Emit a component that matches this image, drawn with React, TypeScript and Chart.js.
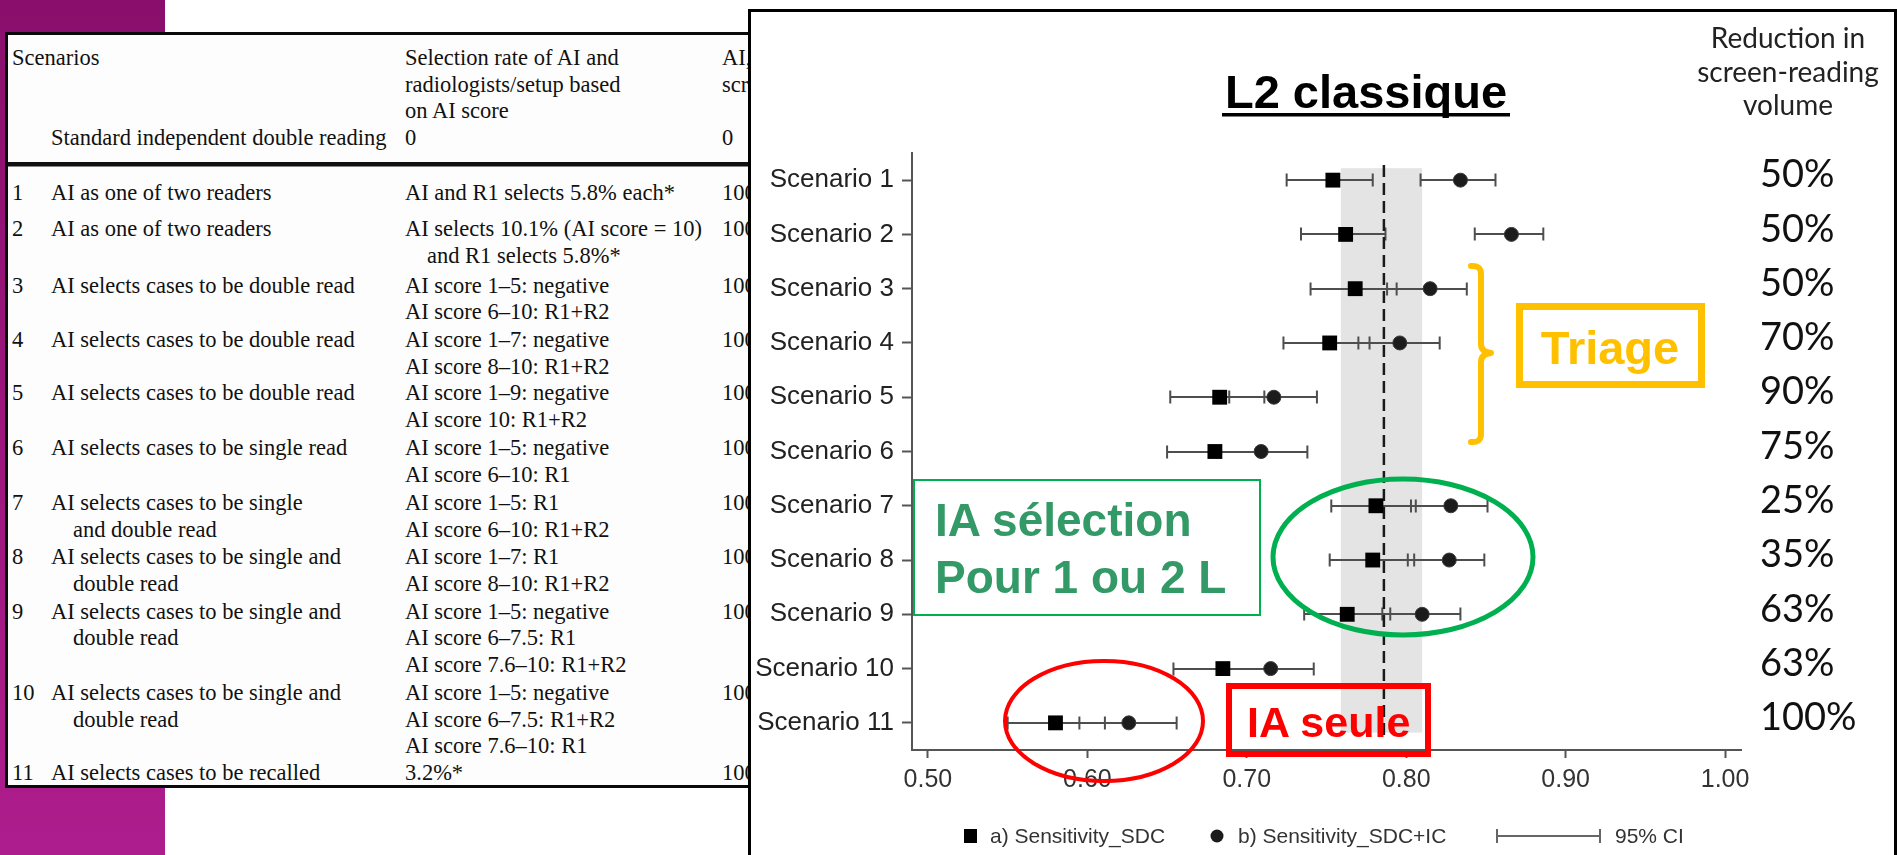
import React, { useEffect, useRef } from 'react';
import { Chart, registerables } from 'chart.js';

Chart.register(...registerables);

// ---------- chart data ----------
const scenarios = ['Scenario 1', 'Scenario 2', 'Scenario 3', 'Scenario 4', 'Scenario 5', 'Scenario 6', 'Scenario 7', 'Scenario 8', 'Scenario 9', 'Scenario 10', 'Scenario 11'];
const sensSdc = [0.754, 0.762, 0.768, 0.752, 0.683, 0.680, 0.781, 0.779, 0.763, 0.685, 0.580];
const sensSdcLo = [0.725, 0.734, 0.740, 0.723, 0.652, 0.650, 0.753, 0.752, 0.736, 0.654, 0.550];
const sensSdcHi = [0.779, 0.787, 0.794, 0.777, 0.711, 0.709, 0.806, 0.805, 0.790, 0.714, 0.611];
const sensSdcIc = [0.834, 0.866, 0.815, 0.796, 0.717, 0.709, 0.828, 0.827, 0.810, 0.715, 0.626];
const sensSdcIcLo = [0.809, 0.843, 0.788, 0.770, 0.689, 0.681, 0.803, 0.801, 0.785, 0.687, 0.595];
const sensSdcIcHi = [0.856, 0.886, 0.838, 0.821, 0.744, 0.738, 0.851, 0.849, 0.834, 0.742, 0.656];
const reductionLabels = ['50%', '50%', '50%', '70%', '90%', '75%', '25%', '35%', '63%', '63%', '100%'];
const xTickValues = [0.5, 0.6, 0.7, 0.8, 0.9, 1.0];
const xTickLabels = ['0.50', '0.60', '0.70', '0.80', '0.90', '1.00'];
const refSens = 0.786;
const refSensLo = 0.759;
const refSensHi = 0.810;

// ---------- table text ----------
const headerCol2 = ['Selection rate of AI and', 'radiologists/setup based', 'on AI score'];
const tableRows = [
  { num: '1', c1: ['AI as one of two readers'], c2: ['AI and R1 selects 5.8% each*'], ys: [192] },
  { num: '2', c1: ['AI as one of two readers'], c2: ['AI selects 10.1% (AI score = 10)', 'and R1 selects 5.8%*'], ys: [228, 255] },
  { num: '3', c1: ['AI selects cases to be double read'], c2: ['AI score 1–5: negative', 'AI score 6–10: R1+R2'], ys: [285, 311] },
  { num: '4', c1: ['AI selects cases to be double read'], c2: ['AI score 1–7: negative', 'AI score 8–10: R1+R2'], ys: [339, 366] },
  { num: '5', c1: ['AI selects cases to be double read'], c2: ['AI score 1–9: negative', 'AI score 10: R1+R2'], ys: [392, 419] },
  { num: '6', c1: ['AI selects cases to be single read'], c2: ['AI score 1–5: negative', 'AI score 6–10: R1'], ys: [447, 474] },
  { num: '7', c1: ['AI selects cases to be single', 'and double read'], c2: ['AI score 1–5: R1', 'AI score 6–10: R1+R2'], ys: [502, 529] },
  { num: '8', c1: ['AI selects cases to be single and', 'double read'], c2: ['AI score 1–7: R1', 'AI score 8–10: R1+R2'], ys: [556, 583] },
  { num: '9', c1: ['AI selects cases to be single and', 'double read'], c2: ['AI score 1–5: negative', 'AI score 6–7.5: R1', 'AI score 7.6–10: R1+R2'], ys: [611, 637, 664] },
  { num: '10', c1: ['AI selects cases to be single and', 'double read'], c2: ['AI score 1–5: negative', 'AI score 6–7.5: R1+R2', 'AI score 7.6–10: R1'], ys: [692, 719, 745] },
  { num: '11', c1: ['AI selects cases to be recalled'], c2: ['3.2%*'], ys: [772] },
];

const SANS = "'Liberation Sans', Arial, sans-serif";
const SERIF = "'Liberation Serif', 'Times New Roman', serif";

const forestPlugin = {
  id: 'forest',
  beforeDatasetsDraw(chart: any) {
    const { ctx } = chart;
    const x = chart.scales.x;
    const y = chart.scales.y;
    ctx.save();
    // reference CI band
    const bx1 = x.getPixelForValue(refSensLo);
    const bx2 = x.getPixelForValue(refSensHi);
    const by1 = y.getPixelForValue(0.78);
    const by2 = y.getPixelForValue(11.18);
    ctx.fillStyle = '#e4e4e4';
    ctx.fillRect(bx1, by1, bx2 - bx1, by2 - by1);
    // error bars
    ctx.strokeStyle = '#4e4e4e';
    ctx.lineWidth = 2;
    const series = [[sensSdcLo, sensSdcHi], [sensSdcIcLo, sensSdcIcHi]];
    series.forEach(([lo, hi]) => {
      lo.forEach((l, i) => {
        const py = Math.round(y.getPixelForValue(i + 1));
        const x1 = x.getPixelForValue(l);
        const x2 = x.getPixelForValue(hi[i]);
        ctx.beginPath();
        ctx.moveTo(x1, py);
        ctx.lineTo(x2, py);
        ctx.moveTo(x1, py - 6.5);
        ctx.lineTo(x1, py + 6.5);
        ctx.moveTo(x2, py - 6.5);
        ctx.lineTo(x2, py + 6.5);
        ctx.stroke();
      });
    });
    // reference dashed line
    const dx = x.getPixelForValue(refSens);
    ctx.setLineDash([12, 6]);
    ctx.strokeStyle = '#1a1a1a';
    ctx.lineWidth = 2.5;
    ctx.beginPath();
    ctx.moveTo(dx, y.getPixelForValue(0.72));
    ctx.lineTo(dx, y.getPixelForValue(11.3));
    ctx.stroke();
    ctx.restore();
  },
  afterDraw(chart: any) {
    const { ctx, chartArea } = chart;
    const y = chart.scales.y;
    ctx.save();
    ctx.font = "38px Lato, 'Open Sans', sans-serif";
    ctx.fillStyle = '#111';
    ctx.textAlign = 'left';
    ctx.textBaseline = 'middle';
    reductionLabels.forEach((t, i) => {
      ctx.fillText(t, chartArea.right + 19, y.getPixelForValue(i + 1) - 5);
    });
    ctx.restore();
  },
};

export default function App() {
  const canvasRef = useRef<HTMLCanvasElement>(null);

  useEffect(() => {
    if (!canvasRef.current) return;
    Chart.defaults.font.family = SANS;
    const chart = new Chart(canvasRef.current, {
      type: 'scatter',
      data: {
        datasets: [
          {
            label: 'a) Sensitivity_SDC',
            data: sensSdc.map((v, i) => ({ x: v, y: i + 1 })),
            pointStyle: 'rect',
            pointRadius: 10.5,
            pointHoverRadius: 10.5,
            backgroundColor: '#000',
            borderColor: '#000',
            borderWidth: 0,
          },
          {
            label: 'b) Sensitivity_SDC+IC',
            data: sensSdcIc.map((v, i) => ({ x: v, y: i + 1 })),
            pointStyle: 'circle',
            pointRadius: 7,
            pointHoverRadius: 7,
            backgroundColor: '#1c1c1c',
            borderColor: '#3a3a3a',
            borderWidth: 1,
          },
        ],
      },
      options: {
        responsive: false,
        animation: false,
        devicePixelRatio: 1,
        layout: { padding: { top: 141, right: 153, left: 0, bottom: 0 } },
        plugins: { legend: { display: false }, tooltip: { enabled: false }, title: { display: false } },
        scales: {
          x: {
            type: 'linear',
            min: 0.49,
            max: 1.01,
            afterBuildTicks: (s: any) => { s.ticks = xTickValues.map((v) => ({ value: v })); },
            afterFit: (s: any) => { s.height = 105; },
            ticks: {
              callback: (v: any) => { const i = xTickValues.indexOf(Number(v)); return i >= 0 ? xTickLabels[i] : ''; },
              font: { size: 25, family: SANS },
              color: '#333',
              padding: 7,
              maxRotation: 0,
              autoSkip: false,
            },
            grid: { drawOnChartArea: false, drawTicks: true, tickLength: 8, tickColor: '#555', tickWidth: 2 },
            border: { display: true, color: '#555', width: 2 },
          },
          y: {
            type: 'linear',
            reverse: true,
            min: 0.5,
            max: 11.5,
            afterBuildTicks: (s: any) => { s.ticks = scenarios.map((_, i) => ({ value: i + 1 })); },
            afterFit: (s: any) => { s.width = 161; },
            ticks: {
              callback: (v: any) => scenarios[Number(v) - 1] ?? '',
              font: { size: 26, family: SANS },
              color: '#222',
              padding: 8,
              autoSkip: false,
            },
            grid: { drawOnChartArea: false, drawTicks: true, tickLength: 10, tickColor: '#555', tickWidth: 2 },
            border: { display: true, color: '#555', width: 2 },
          },
        },
      } as any,
      plugins: [forestPlugin],
    });
    return () => chart.destroy();
  }, []);

  const serifText = (x: number, yc: number, t: string, key: string) => (
    <text key={key} x={x} y={yc + 7.5} fontFamily={SERIF} fontSize={22.5} fill="#111">{t}</text>
  );

  const tableTexts: any[] = [];
  tableTexts.push(serifText(12, 57, 'Scenarios', 'h0'));
  headerCol2.forEach((t, i) => tableTexts.push(serifText(405, [57, 84, 110][i], t, 'h2' + i)));
  tableTexts.push(serifText(722, 57, 'AI, rate', 'h3a'));
  tableTexts.push(serifText(722, 84, 'screening', 'h3b'));
  tableTexts.push(serifText(51, 137, 'Standard independent double reading', 'sd1'));
  tableTexts.push(serifText(405, 137, '0', 'sd2'));
  tableTexts.push(serifText(722, 137, '0', 'sd3'));
  tableRows.forEach((r, ri) => {
    tableTexts.push(serifText(12, r.ys[0], r.num, 'n' + ri));
    r.c1.forEach((t, li) => tableTexts.push(serifText(li === 0 ? 51 : 73, r.ys[li], t, 'a' + ri + '-' + li)));
    r.c2.forEach((t, li) => tableTexts.push(serifText(ri === 1 && li === 1 ? 427 : 405, r.ys[li], t, 'b' + ri + '-' + li)));
    tableTexts.push(serifText(722, r.ys[0], '100', 'c' + ri));
  });

  return (
    <div style={{ position: 'absolute', left: 0, top: 0, width: 1897, height: 855, overflow: 'hidden', background: '#fff' }}>
      {/* purple side strip */}
      <div style={{ position: 'absolute', left: 0, top: 0, width: 165, height: 855, background: 'linear-gradient(to bottom, #8a0f6d, #ae1d8d)' }} />
      {/* table image */}
      <svg width={1897} height={855} style={{ position: 'absolute', left: 0, top: 0 }}>
        <rect x={5} y={32} width={900} height={756} fill="#fdfdfd" />
        <rect x={6.5} y={33.5} width={900} height={753} fill="none" stroke="#0a0a0a" strokeWidth={3} />
        <rect x={8} y={162} width={745} height={4.5} fill="#111" />
        {tableTexts}
      </svg>
      {/* chart panel */}
      <div style={{ position: 'absolute', left: 748, top: 9, width: 1149, height: 900, boxSizing: 'border-box', border: '3px solid #000', background: '#fff' }} />
      <canvas ref={canvasRef} width={1143} height={843} style={{ position: 'absolute', left: 751, top: 12, width: 1143, height: 843 }} />
      {/* annotations */}
      <svg width={1897} height={855} style={{ position: 'absolute', left: 0, top: 0, pointerEvents: 'none' }}>
        <text x={1366} y={108} textAnchor="middle" fontFamily={SANS} fontWeight="bold" fontSize={47} fill="#000">L2 classique</text>
        <rect x={1222} y={113} width={288} height={3.5} fill="#000" />
        <text x={1788} y={48} textAnchor="middle" fontFamily="Lato, sans-serif" fontSize={28} fill="#222">Reduction in</text>
        <text x={1788} y={82} textAnchor="middle" fontFamily="Lato, sans-serif" fontSize={28} fill="#222">screen-reading</text>
        <text x={1788} y={115} textAnchor="middle" fontFamily="Lato, sans-serif" fontSize={28} fill="#222">volume</text>

        {/* Triage */}
        <path d="M1471 266 Q1481 265 1481 274 L1481 344 Q1481 352 1491 353 Q1481 354 1481 362 L1481 434 Q1481 443 1471 442" fill="none" stroke="#FFC000" strokeWidth={6} strokeLinecap="round" strokeLinejoin="round" />
        <rect x={1519.5} y={306.5} width={182} height={78} fill="none" stroke="#FFC000" strokeWidth={7} />
        <text x={1610} y={364} textAnchor="middle" fontFamily={SANS} fontWeight="bold" fontSize={47} fill="#FFC000">Triage</text>

        {/* IA sélection */}
        <rect x={914} y={480} width={346} height={135} fill="none" stroke="#00B050" strokeWidth={2} />
        <text x={935} y={536} fontFamily={SANS} fontWeight="bold" fontSize={46} fill="#339966">IA sélection</text>
        <text x={935} y={593} fontFamily={SANS} fontWeight="bold" fontSize={46} fill="#339966">Pour 1 ou 2 L</text>
        <ellipse cx={1403} cy={557} rx={130} ry={78} fill="none" stroke="#00B050" strokeWidth={5} />

        {/* IA seule */}
        <ellipse cx={1104} cy={721} rx={99} ry={60} fill="none" stroke="#FF0000" strokeWidth={4} />
        <rect x={1229} y={686} width={199} height={68} fill="none" stroke="#FF0000" strokeWidth={6} />
        <text x={1247} y={737} fontFamily={SANS} fontWeight="bold" fontSize={43} fill="#FF0000">IA seule</text>

        {/* legend */}
        <rect x={964} y={829} width={13} height={14} fill="#000" />
        <text x={990} y={843} fontFamily={SANS} fontSize={21} fill="#333">a) Sensitivity_SDC</text>
        <circle cx={1217} cy={836} r={6.5} fill="#1c1c1c" />
        <text x={1238} y={843} fontFamily={SANS} fontSize={21} fill="#333">b) Sensitivity_SDC+IC</text>
        <path d="M1497 836 L1600 836 M1497 829 L1497 843 M1600 829 L1600 843" stroke="#666" strokeWidth={2} fill="none" />
        <text x={1615} y={843} fontFamily={SANS} fontSize={21} fill="#333">95% CI</text>
      </svg>
    </div>
  );
}
